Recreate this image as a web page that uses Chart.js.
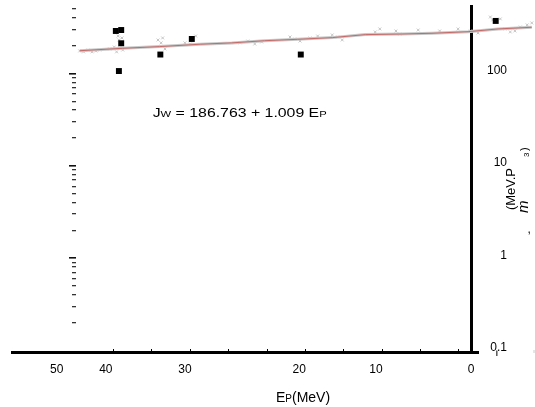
<!DOCTYPE html>
<html><head><meta charset="utf-8">
<script src="https://cdn.jsdelivr.net/npm/chart.js@4/dist/chart.umd.min.js"></script>
<style>html,body{margin:0;padding:0;background:#fff;overflow:hidden}#wrap{width:535px;height:407px;position:relative}</style>
</head><body><div id="wrap"><canvas id="c"></canvas></div>
<script>
// E_P (MeV) on x (reversed), J_W on logarithmic y
const trendEp = [49.4, 43.8, 39.0, 33.7, 29.6, 25.3, 21.0, 16.5, 12.2, 7.4, 3.5, -1.2, -5.1, -9.5];
const trendJw = [176, 187, 195, 207, 214, 226, 234, 244, 263, 267, 272, 283, 303, 316];

const measEp = [44.7, 44.0, 44.0, 44.3, 38.9, 34.8, 20.6, -4.8];
const measJw = [288, 295, 212, 106, 160, 236, 160, 370];

const scatEp = [49.4, 48.9, 48.3, 47.8, 47.3, 46.8, 45.5, 44.9, 44.4, 44.3, 43.9, 44.2, 43.8, 44.6,
  39.2, 38.8, 38.6, 38.3, 35.7, 35.0, 34.3, 28.5, 27.5, 26.6, 25.7, 22.0, 21.4, 20.7, 19.4, 18.4,
  16.5, 15.8, 15.2, 10.9, 10.3, 8.2, 7.7, 5.3, 2.5, 0.1, -1.5, -2.5, -4.1, -4.4, -5.4,
  -6.0, -6.7, -7.3, -8.0, -8.9, -9.5];
const scatJw = [175, 171, 179, 171, 175, 179, 184, 193, 254, 230, 242, 189, 179, 171,
  230, 214, 242, 184, 214, 208, 254, 214, 224, 208, 219, 248, 236, 224, 242, 254,
  261, 248, 230, 281, 303, 288, 267, 295, 288, 303, 288, 274, 408, 379, 389,
  303, 281, 288, 318, 335, 352];

const xTickValues = [0, 5, 10, 15, 20, 25, 30, 35, 40, 45];
const xLabelValues = [52.4, 46.0, 35.7, 20.8, 10.8, -1.58];
const xLabelText = ['50', '40', '30', '20', '10', '0'];

const yLabelValues = [0.1, 1, 10, 100];
const yLabelText = ['0.1', '1', '10', '100'];
const yMajorTicks = [1, 10, 100];
const yMinorTicks = [0.2, 0.3, 0.4, 0.5, 0.6, 0.7, 0.8, 0.9, 2, 3, 4, 5, 6, 7, 8, 9,
  20, 30, 40, 50, 60, 70, 80, 90, 200, 300, 400, 500];

const X_MIN = -1.58, X_MAX = 58.23;
const Y_MIN = 0.0958, Y_MAX = 537;
const LEFT_TICKS_AT = 49.9;

const eqParts = [['J', 12], ['W', 8.5], [' = 186.763 + 1.009 E', 12], ['P', 8.5]];
const xTitleParts = [['E', 14], ['P', 10], ['(MeV)', 14]];
const yTitleMain = '(MeV.P';

const FONT = '"Liberation Sans", Arial, sans-serif';

function pts(xs, ys) { return xs.map((x, i) => ({ x: x, y: ys[i] })); }
function drawParts(ctx, parts, x, y, style) {
  for (const [t, s] of parts) {
    ctx.font = (style || '') + s + 'px ' + FONT;
    ctx.fillText(t, x, y);
    x += ctx.measureText(t).width;
  }
}
function noPad(s) { s.paddingTop = 0; s.paddingBottom = 0; s.paddingLeft = 0; s.paddingRight = 0; }

// let marks beyond the vertical axis (to the right) be drawn, as in the original
const widenPlugin = {
  id: 'widen',
  beforeDatasetsDraw(chart) {
    chart.$savedArea = chart.chartArea;
    chart.chartArea = Object.assign({}, chart.chartArea, { right: chart.width, top: 0 });
  },
  afterDatasetsDraw(chart) {
    if (chart.$savedArea) chart.chartArea = chart.$savedArea;
  }
};

const textPlugin = {
  id: 'texts',
  afterDraw(chart) {
    const ctx = chart.ctx, ca = chart.chartArea;
    ctx.save();
    ctx.fillStyle = '#000';
    ctx.textAlign = 'left';
    ctx.textBaseline = 'alphabetic';
    // axis line extension beyond the vertical axis
    ctx.strokeStyle = '#000'; ctx.lineWidth = 3;
    ctx.beginPath(); ctx.moveTo(ca.right, ca.bottom + 0.5); ctx.lineTo(ca.right + 8, ca.bottom + 0.5); ctx.stroke();
    // small marks near 0.1
    ctx.strokeStyle = '#555'; ctx.lineWidth = 1.5;
    ctx.beginPath(); ctx.moveTo(496.8, 350.5); ctx.lineTo(496.8, 356); ctx.stroke();
    ctx.strokeStyle = '#ccc'; ctx.lineWidth = 1;
    ctx.beginPath(); ctx.moveTo(534, 350); ctx.lineTo(534, 353); ctx.stroke();
    // equation
    ctx.save(); ctx.translate(152.7, 117); ctx.scale(1.32, 1);
    drawParts(ctx, eqParts, 0, 0); ctx.restore();
    // x title
    drawParts(ctx, xTitleParts, 276, 402);
    // right-hand rotated title fragments
    ctx.save(); ctx.translate(514.5, 210); ctx.rotate(-Math.PI / 2); ctx.scale(1.08, 1);
    drawParts(ctx, [[yTitleMain, 12]], 0, 0); ctx.restore();
    ctx.save(); ctx.translate(528, 213); ctx.rotate(-Math.PI / 2);
    drawParts(ctx, [['m', 15]], 0, 0, 'italic '); ctx.restore();
    ctx.save(); ctx.translate(529, 157); ctx.rotate(-Math.PI / 2);
    drawParts(ctx, [['3', 8]], 0, 0); ctx.restore();
    ctx.save(); ctx.translate(528, 151); ctx.rotate(-Math.PI / 2);
    drawParts(ctx, [[')', 11]], 0, 0); ctx.restore();
    drawParts(ctx, [[',', 12]], 527.5, 233);
    ctx.restore();
  }
};

new Chart(document.getElementById('c'), {
  type: 'scatter',
  data: {
    datasets: [
      { label: 'scatter', data: pts(scatEp, scatJw), xAxisID: 'x', yAxisID: 'y',
        pointStyle: 'crossRot', pointRadius: 2, borderColor: '#c4c4c4', backgroundColor: '#c4c4c4',
        borderWidth: 1, clip: false, order: 3 },
      { label: 'trend-gray', data: pts(trendEp, trendJw), xAxisID: 'x', yAxisID: 'y',
        showLine: true, pointRadius: 0, borderColor: '#c8c8c8', borderWidth: 3, clip: false, order: 2 },
      { label: 'trend-red', data: pts(trendEp, trendJw), xAxisID: 'x', yAxisID: 'y',
        showLine: true, pointRadius: 0, borderColor: '#c46a68', borderWidth: 1, clip: false, order: 1 },
      { label: 'measured', data: pts(measEp, measJw), xAxisID: 'x', yAxisID: 'y',
        pointStyle: 'rect', pointRadius: 4.2, backgroundColor: '#000', borderColor: '#000',
        borderWidth: 0, clip: false, order: 0 }
    ]
  },
  options: {
    responsive: true, maintainAspectRatio: false, animation: false,
    devicePixelRatio: 1,
    layout: { padding: { left: 12, top: 6, right: 28, bottom: 0 } },
    plugins: { legend: { display: false }, tooltip: { enabled: false } },
    scales: {
      x: {
        type: 'linear', axis: 'x', position: 'bottom', reverse: true, min: X_MIN, max: X_MAX, weight: 0,
        afterBuildTicks: s => { s.ticks = xTickValues.map(v => ({ value: v })); },
        afterFit: s => { s.height = 0; noPad(s); },
        ticks: { display: false },
        grid: { display: true, drawOnChartArea: false, drawTicks: true, tickLength: -3, color: '#000', lineWidth: 1 },
        border: { display: true, color: '#000', width: 3 }
      },
      xl: {
        type: 'linear', axis: 'x', position: 'bottom', reverse: true, min: X_MIN, max: X_MAX, weight: 1,
        afterBuildTicks: s => { s.ticks = xLabelValues.map(v => ({ value: v })); },
        afterFit: s => { s.height = 55; noPad(s); },
        ticks: { autoSkip: false, maxRotation: 0, minRotation: 0, padding: 10, color: '#000',
          font: { family: FONT, size: 12 }, callback: (v, i) => xLabelText[i] },
        grid: { display: false, drawTicks: false },
        border: { display: false }
      },
      y: {
        type: 'logarithmic', axis: 'y', position: 'right', min: Y_MIN, max: Y_MAX,
        afterBuildTicks: s => { s.ticks = yLabelValues.map(v => ({ value: v })); },
        afterFit: s => { s.width = 36; noPad(s); },
        ticks: { padding: 4, crossAlign: 'far', color: '#000',
          font: { family: FONT, size: 12, lineHeight: 0.45 }, callback: (v, i) => [yLabelText[i], ''] },
        grid: { display: false, drawTicks: false },
        border: { display: true, color: '#000', width: 3 }
      },
      yMinor: {
        type: 'logarithmic', axis: 'y', position: { x: LEFT_TICKS_AT }, min: Y_MIN, max: Y_MAX,
        afterBuildTicks: s => { s.ticks = yMinorTicks.map(v => ({ value: v })); },
        afterFit: s => { noPad(s); },
        ticks: { display: false },
        grid: { display: true, drawOnChartArea: false, drawTicks: true, tickLength: 4, color: '#333', lineWidth: 1.3 },
        border: { display: false }
      },
      yMajor: {
        type: 'logarithmic', axis: 'y', position: { x: LEFT_TICKS_AT }, min: Y_MIN, max: Y_MAX,
        afterBuildTicks: s => { s.ticks = yMajorTicks.map(v => ({ value: v })); },
        afterFit: s => { noPad(s); },
        ticks: { display: false },
        grid: { display: true, drawOnChartArea: false, drawTicks: true, tickLength: 7, color: '#111', lineWidth: 1.6 },
        border: { display: false }
      }
    }
  },
  plugins: [widenPlugin, textPlugin]
});
</script></body></html>
